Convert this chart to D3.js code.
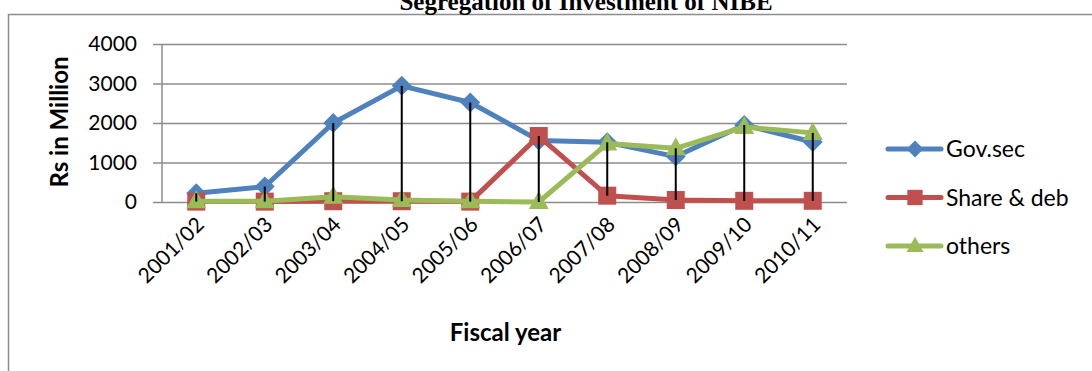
<!DOCTYPE html>
<html>
<head>
<meta charset="utf-8">
<script src="https://cdn.jsdelivr.net/npm/d3@7"></script>
<style>
  html, body { margin: 0; padding: 0; background: #fff; }
  svg { display: block; }
  text { font-family: Lato, "Open Sans", sans-serif; fill: #000; }
</style>
</head>
<body>
<svg id="chart" width="1092" height="371"></svg>
<script>
// Investment segregation of NIBE, Rs in million per fiscal year
const years = ["2001/02", "2002/03", "2003/04", "2004/05", "2005/06",
               "2006/07", "2007/08", "2008/09", "2009/10", "2010/11"];
const govSec   = [220, 390, 2000, 2940, 2520, 1560, 1510, 1150, 1950, 1520];
const shareDeb = [10, 10, 20, 20, 10, 1670, 160, 50, 30, 30];
const others   = [20, 20, 130, 50, 20, 0, 1480, 1360, 1900, 1750];
const yTicks   = [0, 1000, 2000, 3000, 4000];
const seriesNames = ["Gov.sec", "Share & deb", "others"];

const series = [
  { name: seriesNames[0], values: govSec,   color: "#4F81BD", shape: "diamond" },
  { name: seriesNames[1], values: shareDeb, color: "#C0504D", shape: "square" },
  { name: seriesNames[2], values: others,   color: "#9BBB59", shape: "triangle" }
];

const svg = d3.select("#chart");
const W = 1092, H = 371;

// outer chart frame (extends past the right/bottom edge)
svg.append("rect")
  .attr("x", 8.5).attr("y", 14.5)
  .attr("width", W + 20).attr("height", H + 20)
  .attr("fill", "none").attr("stroke", "#8c8c8c").attr("stroke-width", 1.5);

// title, sitting above the frame
svg.append("text")
  .attr("x", 586).attr("y", 10)
  .attr("text-anchor", "middle")
  .style("font-family", "'Liberation Serif', 'Times New Roman', serif")
  .style("font-weight", "bold").style("font-size", "25px")
  .text("Segregation of Investment of NIBE");

const plot = { left: 162, right: 847, top: 44, bottom: 202 };

const x = d3.scaleBand().domain(years).range([plot.left, plot.right]);
const y = d3.scaleLinear().domain([0, 4000]).range([plot.bottom, plot.top]);
const cx = d => x(d) + x.bandwidth() / 2;

// horizontal gridlines with short outer ticks
const yAxis = d3.axisLeft(y).tickValues(yTicks)
  .tickSize(-(plot.right - plot.left)).tickPadding(25).tickFormat(d3.format("d"));
const gy = svg.append("g").attr("transform", `translate(${plot.left},0)`).call(yAxis);
gy.select(".domain").remove();
gy.selectAll(".tick line")
  .attr("x1", -9)
  .attr("stroke", "#8c8c8c").attr("stroke-width", 1.5);
gy.selectAll(".tick text")
  .style("font-size", "21px").style("font-family", "Lato, sans-serif");

// vertical axis line
svg.append("line")
  .attr("x1", plot.left).attr("x2", plot.left)
  .attr("y1", plot.top).attr("y2", plot.bottom)
  .attr("stroke", "#8c8c8c").attr("stroke-width", 1.5);

// category labels rotated 45°
const xAxis = d3.axisBottom(x).tickSize(0).tickPadding(0);
const gx = svg.append("g").attr("transform", `translate(0,${plot.bottom})`).call(xAxis);
gx.select(".domain").remove();
gx.selectAll(".tick text")
  .style("font-size", "21px")
  .attr("text-anchor", "end")
  .attr("dy", 0).attr("y", 0)
  .attr("transform", "translate(9,24) rotate(-45)");

// axis titles
svg.append("text")
  .attr("transform", `translate(68,${(plot.top + plot.bottom) / 2 - 1}) rotate(-90)`)
  .attr("text-anchor", "middle")
  .style("font-weight", "bold").style("font-size", "24px")
  .text("Rs in Million");

svg.append("text")
  .attr("x", (plot.left + plot.right) / 2 + 1).attr("y", 341)
  .attr("text-anchor", "middle")
  .style("font-weight", "bold").style("font-size", "24px")
  .text("Fiscal year");

// marker shapes
function marker(g, shape, color) {
  if (shape === "diamond") {
    g.append("path").attr("d", "M0,-10L10,0L0,10L-10,0Z").attr("fill", color);
  } else if (shape === "square") {
    g.append("rect").attr("x", -9).attr("y", -9).attr("width", 18).attr("height", 18)
      .attr("fill", color);
  } else {
    g.append("path").attr("d", "M0,-11L10,7L-10,7Z").attr("fill", color);
  }
}

const line = d3.line().x((d, i) => cx(years[i])).y(d => y(d));

series.forEach(s => {
  const g = svg.append("g");
  g.append("path").datum(s.values)
    .attr("d", line).attr("fill", "none")
    .attr("stroke", s.color).attr("stroke-width", 5)
    .attr("stroke-linejoin", "round");
  s.values.forEach((v, i) => {
    const m = g.append("g").attr("transform", `translate(${cx(years[i])},${y(v)})`);
    marker(m, s.shape, s.color);
  });
});

// high-low lines spanning all series in each year
svg.append("g").selectAll("line").data(years).join("line")
  .attr("x1", d => cx(d)).attr("x2", d => cx(d))
  .attr("y1", (d, i) => y(d3.max(series, s => s.values[i])))
  .attr("y2", (d, i) => y(d3.min(series, s => s.values[i])))
  .attr("stroke", "#000").attr("stroke-width", 2);

// legend
const legend = svg.append("g");
series.forEach((s, i) => {
  const ly = 149 + i * 48.5;
  const g = legend.append("g").attr("transform", `translate(0,${ly})`);
  g.append("line").attr("x1", 888).attr("x2", 941).attr("y1", 0).attr("y2", 0)
    .attr("stroke", s.color).attr("stroke-width", 5).attr("stroke-linecap", "round");
  const m = g.append("g").attr("transform", "translate(915,0) scale(0.85)");
  marker(m, s.shape, s.color);
  g.append("text").attr("x", 946).attr("y", 0).attr("dy", "0.36em")
    .style("font-size", "23px").text(s.name);
});
</script>
</body>
</html>
